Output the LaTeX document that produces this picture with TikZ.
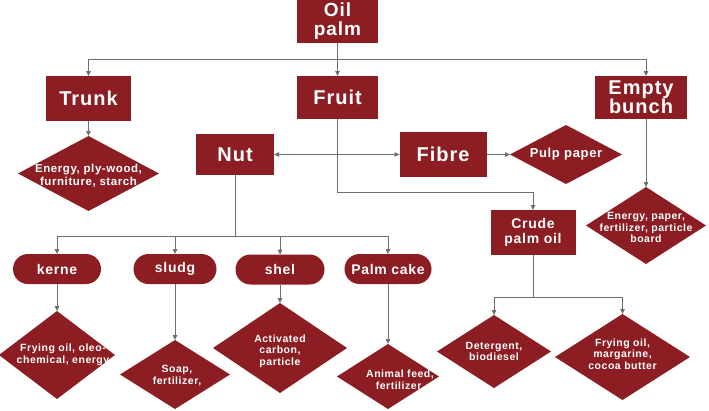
\documentclass[tikz,border=0pt]{standalone}
\usepackage{fontspec}
\setmainfont{Liberation Sans}[LetterSpace=5]
\usetikzlibrary{shapes.geometric,arrows.meta}
\definecolor{palmred}{RGB}{140,29,35}
\definecolor{linegray}{RGB}{110,110,110}
\newcommand\fsz[2]{\fontsize{#1}{#2}\selectfont}
\tikzset{
  box/.style={rectangle, fill=palmred, text=white, inner sep=0pt, outer sep=0pt, align=center},
  pill/.style={box, rounded corners=15pt, minimum height=30, font=\bfseries\fsz{14}{14}},
  dia/.style={diamond, fill=palmred, inner sep=0pt, outer sep=0pt},
  dtext/.style={text=white, inner sep=0pt, align=center, font=\bfseries\fsz{10.5}{11.5}},
  ln/.style={draw=linegray, line width=0.8pt},
  arr/.style={ln, -{Triangle[length=5pt,width=4.5pt]}}
}
\begin{document}
\begin{tikzpicture}[x=1pt,y=-1pt]
\useasboundingbox (0,0) rectangle (709,410);

\node[box, minimum width=81, minimum height=43, font=\bfseries\fsz{19}{19}] (oil) at (337.5,21.5) {Oil\\palm};
\node[box, minimum width=85, minimum height=45, font=\bfseries\fsz{20}{20}] (trunk) at (88.5,98.5) {Trunk};
\node[box, minimum width=81, minimum height=43, font=\bfseries\fsz{20}{20}] (fruit) at (337.5,97.5) {Fruit};
\node[box, minimum width=92, minimum height=43, font=\bfseries\fsz{20}{19}] (bunch) at (641,97.5) {Empty\\bunch};
\node[box, minimum width=78, minimum height=41, font=\bfseries\fsz{20}{20}] (nut) at (235,154.5) {Nut};
\node[box, minimum width=87, minimum height=45, font=\bfseries\fsz{20}{20}] (fibre) at (443,154.5) {Fibre};
\node[box, minimum width=85, minimum height=45, font=\bfseries\fsz{14}{15}] (crude) at (533,232.5) {Crude\\palm oil};

\node[pill, minimum width=88] (kerne) at (57,269) {kerne};
\node[pill, minimum width=83] (sludg) at (175,269) {sludg};
\node[pill, minimum width=89] (shel) at (280,269.5) {shel};
\node[pill, minimum width=87] (cake) at (388,269) {Palm cake};

\node[dia, minimum width=141, minimum height=75,
  label={[dtext, yshift=-2, font=\bfseries\fsz{11.5}{13}]center:{Energy, ply-wood,\\furniture, starch}}] (trunkuse) at (88.5,173.5) {};
\node[dia, minimum width=112, minimum height=59,
  label={[dtext, font=\bfseries\fsz{13}{14}]center:{Pulp paper}}] (pulp) at (566,154.5) {};
\node[dia, minimum width=120, minimum height=77,
  label={[dtext, yshift=-2]center:{Energy, paper,\\fertilizer, particle\\board}}] (bunchuse) at (646,225.5) {};
\node[dia, minimum width=116, minimum height=88,
  label={[dtext, xshift=6]center:{Frying oil, oleo-\\chemical, energy}}] (kerneuse) at (57,355) {};
\node[dia, minimum width=110, minimum height=69,
  label={[dtext, xshift=2, yshift=-1]center:{Soap,\\fertilizer,}}] (sludguse) at (175,374.5) {};
\node[dia, minimum width=134, minimum height=90,
  label={[dtext, yshift=-3]center:{Activated\\carbon,\\particle}}] (sheluse) at (280,348) {};
\node[dia, minimum width=102, minimum height=65,
  label={[dtext, xshift=12, yshift=-3]center:{Animal feed,\\fertilizer.}}] (cakeuse) at (388,376.5) {};
\node[dia, minimum width=114, minimum height=73,
  label={[dtext]center:{Detergent,\\biodiesel}}] (detuse) at (494,351.5) {};
\node[dia, minimum width=135, minimum height=86,
  label={[dtext, yshift=3]center:{Frying oil,\\margarine,\\cocoa butter}}] (cpouse) at (622.5,357) {};

% joints
\coordinate (ojoin) at ([yshift=-16]oil.south);
\coordinate (fjoin) at (fruit |- nut);
\coordinate (cjoin) at (337.5,192);
\coordinate (njoin) at ([yshift=-61]nut.south);
\coordinate (crjoin) at ([yshift=-42]crude.south);

\draw[arr] (oil) -- (fruit);
\draw[arr] (ojoin) -| (trunk);
\draw[arr] (ojoin) -| ([xshift=5]bunch.north);
\draw[arr] (trunk) -- (trunkuse);
\draw[arr] ([xshift=5]bunch.south) -- (bunchuse.north);

\draw[arr] (fruit) -- (cjoin) -| (crude);
\draw[arr] (fjoin) -- (nut);
\draw[arr] (fjoin) -- (fibre);
\draw[arr] (fibre) -- (pulp);

\draw[ln] (nut) -- (njoin);
\foreach \p in {kerne,sludg,shel,cake}
  \draw[arr] (njoin) -| (\p);
\foreach \a/\b in {kerne/kerneuse,sludg/sludguse,shel/sheluse,cake/cakeuse}
  \draw[arr] (\a) -- (\b);

\draw[ln] (crude) -- (crjoin);
\draw[arr] (crjoin) -| (detuse);
\draw[arr] (crjoin) -| (cpouse);
\end{tikzpicture}
\end{document}
